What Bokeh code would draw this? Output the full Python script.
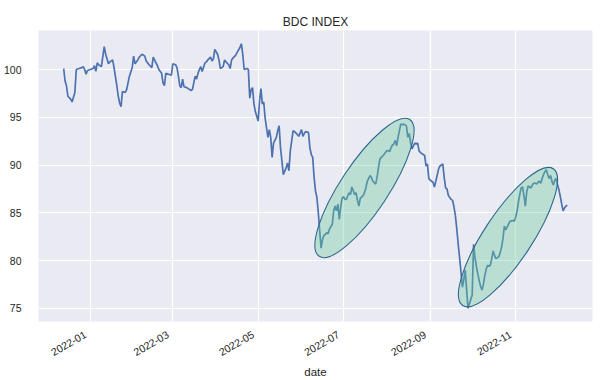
import math
import pandas as pd
from bokeh.plotting import figure
from bokeh.models import Range1d, FixedTicker, SingleIntervalTicker, DatetimeTickFormatter, ColumnDataSource
from bokeh.embed import file_html
from bokeh.resources import INLINE

dates = [
    "2021-12-13", "2021-12-14", "2021-12-15", "2021-12-16", "2021-12-18", "2021-12-19", "2021-12-21", "2021-12-22",
    "2021-12-24", "2021-12-26", "2021-12-27", "2021-12-28", "2021-12-29", "2021-12-30",
    "2022-01-01", "2022-01-03", "2022-01-04", "2022-01-05", "2022-01-06", "2022-01-07", "2022-01-09", "2022-01-10",
    "2022-01-11", "2022-01-12", "2022-01-14", "2022-01-15", "2022-01-17", "2022-01-18", "2022-01-20", "2022-01-21",
    "2022-01-22", "2022-01-23", "2022-01-24", "2022-01-26", "2022-01-27", "2022-01-28", "2022-01-29", "2022-01-31",
    "2022-02-01", "2022-02-02", "2022-02-04", "2022-02-05", "2022-02-07", "2022-02-09", "2022-02-10", "2022-02-12",
    "2022-02-14", "2022-02-15", "2022-02-17", "2022-02-18", "2022-02-19", "2022-02-21", "2022-02-22", "2022-02-23",
    "2022-02-24", "2022-02-26", "2022-02-28",
    "2022-03-01", "2022-03-03", "2022-03-04", "2022-03-05", "2022-03-06", "2022-03-07", "2022-03-08", "2022-03-09",
    "2022-03-11", "2022-03-12", "2022-03-14", "2022-03-15", "2022-03-17", "2022-03-18", "2022-03-19", "2022-03-20",
    "2022-03-21", "2022-03-22", "2022-03-24", "2022-03-25", "2022-03-26", "2022-03-28", "2022-03-29", "2022-03-30",
    "2022-03-31",
    "2022-04-02", "2022-04-03", "2022-04-04", "2022-04-06", "2022-04-07", "2022-04-08", "2022-04-10", "2022-04-11",
    "2022-04-12", "2022-04-13", "2022-04-15", "2022-04-16", "2022-04-18", "2022-04-19", "2022-04-20", "2022-04-21",
    "2022-04-23", "2022-04-24", "2022-04-25", "2022-04-26", "2022-04-27", "2022-04-28", "2022-04-29", "2022-04-30",
    "2022-05-01", "2022-05-02", "2022-05-03", "2022-05-04", "2022-05-05", "2022-05-06", "2022-05-07", "2022-05-08",
    "2022-05-09", "2022-05-10", "2022-05-11", "2022-05-12", "2022-05-14", "2022-05-15", "2022-05-16", "2022-05-17",
    "2022-05-18", "2022-05-19", "2022-05-21", "2022-05-22", "2022-05-23", "2022-05-24", "2022-05-26", "2022-05-27",
    "2022-05-29", "2022-05-30",
    "2022-06-01", "2022-06-02", "2022-06-03", "2022-06-04", "2022-06-06", "2022-06-07", "2022-06-08", "2022-06-09",
    "2022-06-10", "2022-06-11", "2022-06-12", "2022-06-13", "2022-06-14", "2022-06-15", "2022-06-16", "2022-06-17",
    "2022-06-19", "2022-06-20", "2022-06-21", "2022-06-23", "2022-06-24", "2022-06-25", "2022-06-26", "2022-06-27",
    "2022-06-28", "2022-06-29", "2022-06-30",
    "2022-07-01", "2022-07-02", "2022-07-03", "2022-07-05", "2022-07-06", "2022-07-07", "2022-07-08", "2022-07-09",
    "2022-07-10", "2022-07-11", "2022-07-12", "2022-07-13", "2022-07-15", "2022-07-16", "2022-07-17", "2022-07-18",
    "2022-07-20", "2022-07-21", "2022-07-22", "2022-07-24", "2022-07-25", "2022-07-26", "2022-07-27", "2022-07-28",
    "2022-07-30", "2022-07-31",
    "2022-08-01", "2022-08-02", "2022-08-03", "2022-08-04", "2022-08-05", "2022-08-06", "2022-08-07", "2022-08-08",
    "2022-08-09", "2022-08-10", "2022-08-11", "2022-08-12", "2022-08-13", "2022-08-15", "2022-08-16", "2022-08-17",
    "2022-08-18", "2022-08-19", "2022-08-20", "2022-08-21", "2022-08-22", "2022-08-23", "2022-08-24", "2022-08-25",
    "2022-08-27", "2022-08-28", "2022-08-29", "2022-08-30", "2022-08-31",
    "2022-09-01", "2022-09-03", "2022-09-04", "2022-09-05", "2022-09-07", "2022-09-08", "2022-09-09", "2022-09-10",
    "2022-09-11", "2022-09-12", "2022-09-13", "2022-09-14", "2022-09-15", "2022-09-16", "2022-09-17", "2022-09-18",
    "2022-09-19", "2022-09-20", "2022-09-21", "2022-09-22", "2022-09-23", "2022-09-24", "2022-09-25", "2022-09-26",
    "2022-09-27", "2022-09-28",
    "2022-10-01", "2022-10-02", "2022-10-03", "2022-10-04", "2022-10-05", "2022-10-06", "2022-10-07", "2022-10-08",
    "2022-10-09", "2022-10-10", "2022-10-11", "2022-10-12", "2022-10-13", "2022-10-14", "2022-10-15", "2022-10-16",
    "2022-10-17", "2022-10-18", "2022-10-19", "2022-10-20", "2022-10-21", "2022-10-22", "2022-10-23", "2022-10-24",
    "2022-10-25", "2022-10-26", "2022-10-27", "2022-10-28", "2022-10-30", "2022-10-31",
    "2022-11-01", "2022-11-02", "2022-11-03", "2022-11-04", "2022-11-05", "2022-11-06", "2022-11-07", "2022-11-08",
    "2022-11-09", "2022-11-10", "2022-11-11", "2022-11-12", "2022-11-13", "2022-11-14", "2022-11-15", "2022-11-16",
    "2022-11-17", "2022-11-18", "2022-11-19", "2022-11-20", "2022-11-21", "2022-11-22", "2022-11-23", "2022-11-24",
    "2022-11-25", "2022-11-26", "2022-11-27", "2022-11-28", "2022-11-29", "2022-11-30",
    "2022-12-01", "2022-12-02", "2022-12-03", "2022-12-04", "2022-12-05", "2022-12-06", "2022-12-07", "2022-12-08",
]

values = [
    100.1, 98.8, 98.3, 97.2, 96.9, 96.6, 97.6, 100.0,
    100.1, 100.2, 100.3, 100.0, 99.5, 99.9,
    100.0, 100.1, 100.4, 99.8, 100.7, 100.5, 100.3, 101.4,
    102.4, 101.6, 100.6, 100.8, 101.0, 100.2, 98.3, 97.2,
    96.5, 96.1, 97.7, 97.6, 97.9, 98.6, 99.3, 100.2,
    101.4, 100.6, 101.0, 101.3, 101.6, 101.4, 100.9, 100.5,
    100.2, 101.3, 100.7, 100.4, 100.0, 99.6, 98.6, 98.3,
    99.6, 99.5, 99.4,
    100.6, 100.5, 100.2, 99.3, 98.3, 98.1, 99.0, 98.2,
    98.1, 98.0, 97.8, 97.9, 99.3, 99.0, 99.6, 100.0,
    100.3, 99.8, 100.7, 100.8, 101.0, 101.3, 100.9, 101.1,
    102.1,
    101.6, 101.0, 100.1, 100.3, 101.0, 100.8, 100.5, 100.1,
    101.0, 101.2, 101.5, 101.8, 102.3, 102.7, 101.6, 100.0,
    100.1, 100.0, 97.0, 97.9, 98.1, 96.4, 95.6, 95.1,
    94.6, 96.7, 98.0, 96.4, 96.6, 94.9, 93.9, 92.9,
    93.7, 92.9, 90.8, 92.3, 92.9, 93.6, 94.1, 91.8,
    90.4, 89.0, 89.7, 90.2, 89.4, 91.5, 93.6, 93.5,
    93.2, 93.0,
    93.7, 93.0, 93.3, 93.5, 93.4, 91.8, 91.1, 90.8,
    88.7, 87.3, 86.6, 85.0, 83.1, 81.3, 82.2, 82.6,
    82.9, 82.8, 83.3, 83.8, 85.2, 85.7, 85.2, 85.9,
    84.3, 85.6, 86.5,
    86.7, 86.4, 86.4, 87.1, 86.9, 87.7, 87.3, 86.9,
    87.1, 86.3, 85.7, 86.5, 86.8, 87.1, 87.6, 88.3,
    88.9, 88.7, 88.3, 88.0, 88.7, 89.7, 90.6, 90.8,
    91.1, 91.3,
    91.5, 91.5, 91.4, 91.8, 92.1, 92.2, 92.6, 92.0,
    92.9, 93.6, 94.3, 94.2, 94.3, 94.1, 92.9, 93.3,
    92.3, 91.7, 92.0, 92.3, 92.2, 92.3, 91.5, 91.3,
    91.1, 91.0, 89.9, 90.1, 88.6,
    88.4, 88.2, 87.7, 88.3, 89.6, 89.9, 90.0, 90.1,
    88.7, 87.6, 87.5, 86.8, 86.6, 86.4, 86.3, 85.6,
    84.7, 83.3, 81.7, 80.3, 78.8, 77.2, 78.0, 79.0,
    77.0, 75.0,
    76.4, 81.7, 80.3, 79.4, 78.6, 77.9, 77.3, 76.9,
    77.5, 78.4, 79.1, 79.5, 79.4, 79.5, 80.2, 81.0,
    80.5, 80.2, 80.3, 80.4, 80.8, 81.4, 82.3, 83.6,
    83.2, 83.5, 83.8, 84.1, 84.2, 84.1,
    84.5, 85.1, 86.1, 86.9, 87.6, 87.7, 86.8, 85.7,
    87.2, 87.8, 87.7, 87.6, 87.9, 88.1, 88.1, 88.0,
    88.2, 88.3, 88.1, 88.6, 89.0, 89.3, 89.5, 89.0,
    88.6, 88.9, 88.3, 87.9, 88.4, 88.6,
    87.9, 87.4, 86.7, 85.9, 85.2, 85.5, 85.7, 85.8,
]

tick_dates = ["2022-01-01", "2022-03-01", "2022-05-01", "2022-07-01", "2022-09-01", "2022-11-01"]

# highlighted regions (annotation ellipses): centre date and centre value
ellipse_dates = ["2022-07-16", "2022-10-26 14:00"]
ellipse_values = [87.6, 82.45]

title_text = "BDC INDEX"
x_label = "date"

TEXT = "#262626"
FONT = "Liberation Sans"


def ms(ts):
    return pd.Timestamp(ts).value / 1e6


dts = pd.to_datetime(dates)
x_ms = [ms(d) for d in dts]
span_x = x_ms[-1] - x_ms[0]
vmin, vmax = min(values), max(values)
span_y = vmax - vmin

p = figure(
    x_axis_type="datetime",
    frame_width=554, frame_height=291,
    min_border_left=29, min_border_right=12, min_border_top=30, min_border_bottom=56,
    x_range=Range1d(x_ms[0] - 0.05 * span_x, x_ms[-1] + 0.05 * span_x),
    y_range=Range1d(vmin - 0.05 * span_y, vmax + 0.05 * span_y),
    output_backend="svg", toolbar_location=None,
    background_fill_color="#EAEAF2", border_fill_color="white",
)
p.outline_line_color = None

p.title.text = title_text
p.title.align = "center"
p.title.text_font = FONT
p.title.text_font_size = "12px"
p.title.text_font_style = "normal"
p.title.text_color = TEXT
p.title.standoff = 4

src = ColumnDataSource(dict(x=x_ms, y=values))
p.line("x", "y", source=src, line_color="#4C72B0", line_width=1.7)

esrc = ColumnDataSource(dict(x=[ms(d) for d in ellipse_dates], y=ellipse_values))
p.ellipse("x", "y", source=esrc, width=164, height=48, width_units="screen", height_units="screen",
          angle=math.radians(56.5), fill_color="#66CC99", fill_alpha=0.36,
          line_color="#2C6690", line_width=1.1)

for ax in (p.xaxis[0], p.yaxis[0]):
    ax.axis_line_color = None
    ax.major_tick_line_color = None
    ax.minor_tick_line_color = None
    ax.major_label_text_font = FONT
    ax.major_label_text_font_size = "10.5px"
    ax.major_label_text_color = TEXT

p.xaxis.ticker = FixedTicker(ticks=[ms(t) for t in tick_dates])
# two trailing no-break spaces: the rotated labels end right at their tick, as in the reference
fmt = "%Y-%m\u00a0\u00a0"
p.xaxis.formatter = DatetimeTickFormatter(
    milliseconds=fmt, seconds=fmt, minsec=fmt, minutes=fmt, hourmin=fmt, hours=fmt,
    days=fmt, months=fmt, years=fmt)
p.xaxis.major_label_orientation = math.pi / 6
p.xaxis.major_label_standoff = 3
p.xaxis.axis_label = x_label
p.xaxis.axis_label_text_font = FONT
p.xaxis.axis_label_text_font_size = "11.5px"
p.xaxis.axis_label_text_font_style = "normal"
p.xaxis.axis_label_text_color = TEXT
p.xaxis.axis_label_standoff = 0

p.yaxis.ticker = SingleIntervalTicker(interval=5)
p.yaxis.major_label_standoff = 11

p.xgrid.ticker = p.xaxis.ticker
p.grid.grid_line_color = "white"
p.grid.grid_line_width = 1.2

open("out.html", "w").write(file_html(p, INLINE))
